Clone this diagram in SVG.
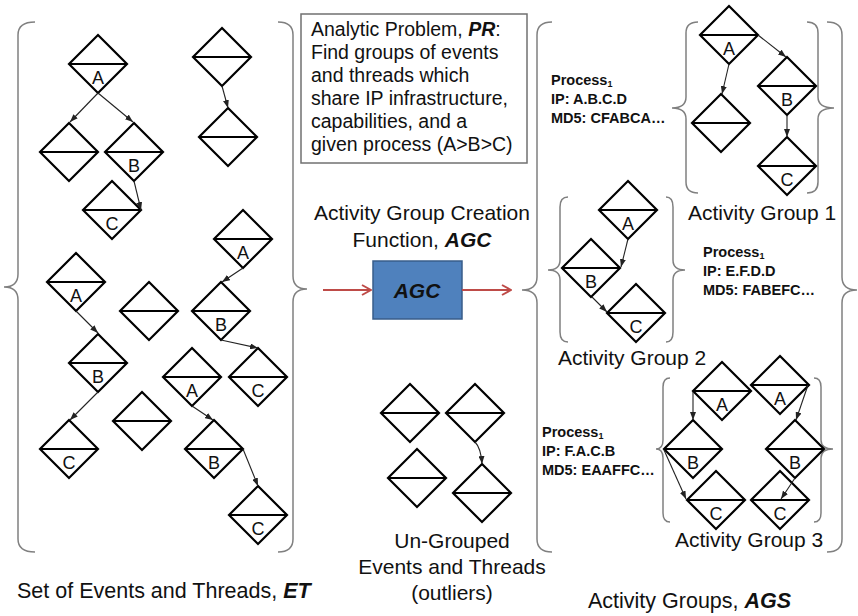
<svg xmlns="http://www.w3.org/2000/svg" xmlns:xlink="http://www.w3.org/1999/xlink" width="858" height="616" viewBox="0 0 858 616">
<style>
  text { font-family: "Liberation Sans", Arial, sans-serif; fill: #111; }
  .d { fill: #fff; stroke: #000; stroke-width: 2.2; stroke-linejoin: miter; }
  .lbl { font-size: 18px; text-anchor: middle; }
  .big { font-size: 21px; }
  .box { font-size: 19.5px; }
  .proc { font-size: 14.5px; font-weight: bold; }
  .bi { font-weight: bold; font-style: italic; }
  .brace { fill: none; stroke: #808080; stroke-width: 1.5; }
  .conn { fill: none; stroke: #222; stroke-width: 1.1; marker-end: url(#ah); }
  .red { fill: none; stroke: #be4b48; stroke-width: 2; marker-end: url(#rah); }
</style>
<defs>
  <path id="dia" class="d" d="M0,-29 L29,0 L0,29 L-29,0 Z M-29,0 H29"/>
  <marker id="ah" markerUnits="userSpaceOnUse" viewBox="0 0 8 6" refX="8" refY="3" markerWidth="8" markerHeight="6" orient="auto">
    <path d="M0,0 L8,3 L0,6 Z" fill="#222"/>
  </marker>
  <marker id="rah" markerUnits="userSpaceOnUse" viewBox="0 0 11 12" refX="10" refY="6" markerWidth="11" markerHeight="12" orient="auto">
    <path d="M1,1 L10,6 L1,11" fill="none" stroke="#be4b48" stroke-width="2"/>
  </marker>
</defs>

<rect x="0" y="0" width="858" height="616" fill="#fff"/>

<!-- braces -->
<g id="braces">
  <path class="brace" d="M35,22 Q18,22 18,35 L18,274 Q18,287 4,287 Q18,287 18,300 L18,539 Q18,552 35,552"/>
  <path class="brace" d="M278,22 Q293,22 293,35 L293,276 Q293,289 307,289 Q293,289 293,302 L293,539 Q293,552 278,552"/>
  <path class="brace" d="M552,22 Q537,22 537,35 L537,277 Q537,290 522,290 Q537,290 537,303 L537,539 Q537,552 552,552"/>
  <path class="brace" d="M827,22 Q842,22 842,35 L842,277 Q842,290 857,290 Q842,290 842,303 L842,539 Q842,552 827,552"/>
  <path class="brace" d="M698,22 Q686,22 686,33 L686,97 Q686,108 672,108 Q686,108 686,119 L686,182 Q686,193 698,193"/>
  <path class="brace" d="M807,22 Q818,22 818,33 L818,97 Q818,108 834,108 Q818,108 818,119 L818,182 Q818,193 807,193"/>
  <path class="brace" d="M568,197 Q560,197 560,207 L560,260 Q560,270 548,270 Q560,270 560,280 L560,332 Q560,342 568,342"/>
  <path class="brace" d="M666,197 Q673,197 673,207 L673,260 Q673,270 685,270 Q673,270 673,280 L673,332 Q673,342 666,342"/>
  <path class="brace" d="M670,378 Q663,378 663,387 L663,440 Q663,449 656,449 Q663,449 663,458 L663,513 Q663,522 670,522"/>
  <path class="brace" d="M814,378 Q821,378 821,387 L821,440 Q821,449 833,449 Q821,449 821,458 L821,513 Q821,522 814,522"/>
</g>

<!-- problem box -->
<g id="problem">
  <rect x="301" y="14" width="226" height="149" fill="#fff" stroke="#707070" stroke-width="1.5"/>
  <text class="box" x="311" y="36">Analytic Problem, <tspan class="bi">PR</tspan>:</text>
  <text class="box" x="311" y="59">Find groups of events</text>
  <text class="box" x="311" y="82">and threads which</text>
  <text class="box" x="311" y="105">share IP infrastructure,</text>
  <text class="box" x="311" y="128">capabilities, and a</text>
  <text class="box" x="311" y="151">given process (A&gt;B&gt;C)</text>
</g>

<g id="agc-title">
  <text class="big" x="422" y="220" text-anchor="middle">Activity Group Creation</text>
  <text class="big" x="422" y="247" text-anchor="middle">Function, <tspan class="bi">AGC</tspan></text>
</g>

<g id="agc">
  <rect x="373" y="261" width="89" height="58" fill="#4f81bd" stroke="#385d8a" stroke-width="1.5"/>
  <text x="417" y="298" text-anchor="middle" font-size="21" class="bi">AGC</text>
</g>

<!-- ET nodes -->
<g id="et-a1"><use href="#dia" x="98" y="64"/><text class="lbl" x="98" y="84">A</text></g>
<g id="et-e1"><use href="#dia" x="69" y="152"/></g>
<g id="et-b1"><use href="#dia" x="134" y="152"/><text class="lbl" x="134" y="172">B</text></g>
<g id="et-c1"><use href="#dia" x="112" y="210"/><text class="lbl" x="112" y="230">C</text></g>
<g id="et-e2"><use href="#dia" x="222" y="57"/></g>
<g id="et-e3"><use href="#dia" x="228" y="137"/></g>
<g id="et-a2"><use href="#dia" x="243" y="239"/><text class="lbl" x="243" y="259">A</text></g>
<g id="et-a3"><use href="#dia" x="76" y="282"/><text class="lbl" x="76" y="302">A</text></g>
<g id="et-e4"><use href="#dia" x="149" y="311"/></g>
<g id="et-b2"><use href="#dia" x="221" y="311"/><text class="lbl" x="221" y="331">B</text></g>
<g id="et-b3"><use href="#dia" x="98" y="363"/><text class="lbl" x="98" y="383">B</text></g>
<g id="et-a4"><use href="#dia" x="192" y="377"/><text class="lbl" x="192" y="397">A</text></g>
<g id="et-c2"><use href="#dia" x="258" y="377"/><text class="lbl" x="258" y="397">C</text></g>
<g id="et-e5"><use href="#dia" x="142" y="421"/></g>
<g id="et-c3"><use href="#dia" x="69" y="449"/><text class="lbl" x="69" y="469">C</text></g>
<g id="et-b4"><use href="#dia" x="214" y="449"/><text class="lbl" x="214" y="469">B</text></g>
<g id="et-c4"><use href="#dia" x="258" y="515"/><text class="lbl" x="258" y="535">C</text></g>

<!-- ungrouped nodes -->
<g id="ug-1"><use href="#dia" x="410" y="413"/></g>
<g id="ug-2"><use href="#dia" x="475" y="413"/></g>
<g id="ug-3"><use href="#dia" x="417" y="478"/></g>
<g id="ug-4"><use href="#dia" x="482" y="493"/></g>

<!-- AG1 -->
<g id="ag1-a"><use href="#dia" x="729" y="35"/><text class="lbl" x="729" y="55">A</text></g>
<g id="ag1-e"><use href="#dia" x="721" y="123"/></g>
<g id="ag1-b"><use href="#dia" x="787" y="86"/><text class="lbl" x="787" y="106">B</text></g>
<g id="ag1-c"><use href="#dia" x="787" y="166"/><text class="lbl" x="787" y="186">C</text></g>

<!-- AG2 -->
<g id="ag2-a"><use href="#dia" x="628" y="210"/><text class="lbl" x="628" y="230">A</text></g>
<g id="ag2-b"><use href="#dia" x="591" y="268"/><text class="lbl" x="591" y="288">B</text></g>
<g id="ag2-c"><use href="#dia" x="636" y="313"/><text class="lbl" x="636" y="333">C</text></g>

<!-- AG3 -->
<g id="ag3-a1"><use href="#dia" x="722" y="391"/><text class="lbl" x="722" y="411">A</text></g>
<g id="ag3-a2"><use href="#dia" x="780" y="385"/><text class="lbl" x="780" y="405">A</text></g>
<g id="ag3-b1"><use href="#dia" x="693" y="449"/><text class="lbl" x="693" y="469">B</text></g>
<g id="ag3-b2"><use href="#dia" x="795" y="449"/><text class="lbl" x="795" y="469">B</text></g>
<g id="ag3-c1"><use href="#dia" x="716" y="500"/><text class="lbl" x="716" y="520">C</text></g>
<g id="ag3-c2"><use href="#dia" x="780" y="500"/><text class="lbl" x="780" y="520">C</text></g>

<!-- connectors -->
<g id="connectors">
  <path class="conn" d="M98,93 L70,122"/>
  <path class="conn" d="M98,93 L133,122"/>
  <path class="conn" d="M134,181 L141,210"/>
  <path class="conn" d="M222,86 L228,108"/>
  <path class="conn" d="M243,268 L222,282"/>
  <path class="conn" d="M221,340 L258,348"/>
  <path class="conn" d="M76,311 L98,333"/>
  <path class="conn" d="M98,392 L70,420"/>
  <path class="conn" d="M192,406 L213,420"/>
  <path class="conn" d="M243,449 L258,486"/>
  <path class="conn" d="M475,442 Q481,448 482,464"/>
  <path class="conn" d="M729,64 L722,94"/>
  <path class="conn" d="M758,35 L786,57"/>
  <path class="conn" d="M787,115 L787,137"/>
  <path class="conn" d="M628,239 L621,267"/>
  <path class="conn" d="M592,297 L607,312"/>
  <path class="conn" d="M693,392 L693,420"/>
  <path class="conn" d="M808,385 L796,420"/>
  <path class="conn" d="M664,450 L686,499"/>
  <path class="conn" d="M795,478 L781,499"/>
  <path class="red" d="M323,290 L371,290"/>
  <path class="red" d="M462,290 L511,290"/>
</g>

<!-- process texts -->
<g id="proc1">
  <text class="proc" x="551" y="85">Process<tspan font-size="9" dy="2">1</tspan></text>
  <text class="proc" x="551" y="104">IP: A.B.C.D</text>
  <text class="proc" x="551" y="123">MD5: CFABCA…</text>
</g>
<g id="proc2">
  <text class="proc" x="703" y="257">Process<tspan font-size="9" dy="2">1</tspan></text>
  <text class="proc" x="703" y="276">IP: E.F.D.D</text>
  <text class="proc" x="703" y="295">MD5: FABEFC…</text>
</g>
<g id="proc3">
  <text class="proc" x="542" y="437">Process<tspan font-size="9" dy="2">1</tspan></text>
  <text class="proc" x="542" y="456">IP: F.A.C.B</text>
  <text class="proc" x="542" y="475">MD5: EAAFFC…</text>
</g>

<!-- captions -->
<g id="captions">
  <text class="big" x="688" y="220">Activity Group 1</text>
  <text class="big" x="558" y="365">Activity Group 2</text>
  <text class="big" x="675" y="547">Activity Group 3</text>
  <text class="big" x="452" y="548" text-anchor="middle">Un-Grouped</text>
  <text class="big" x="452" y="574" text-anchor="middle">Events and Threads</text>
  <text class="big" x="452" y="600" text-anchor="middle">(outliers)</text>
  <text x="17" y="598" font-size="21.5">Set of Events and Threads, <tspan class="bi">ET</tspan></text>
  <text x="588" y="608" font-size="21.5">Activity Groups, <tspan class="bi">AGS</tspan></text>
</g>
</svg>
